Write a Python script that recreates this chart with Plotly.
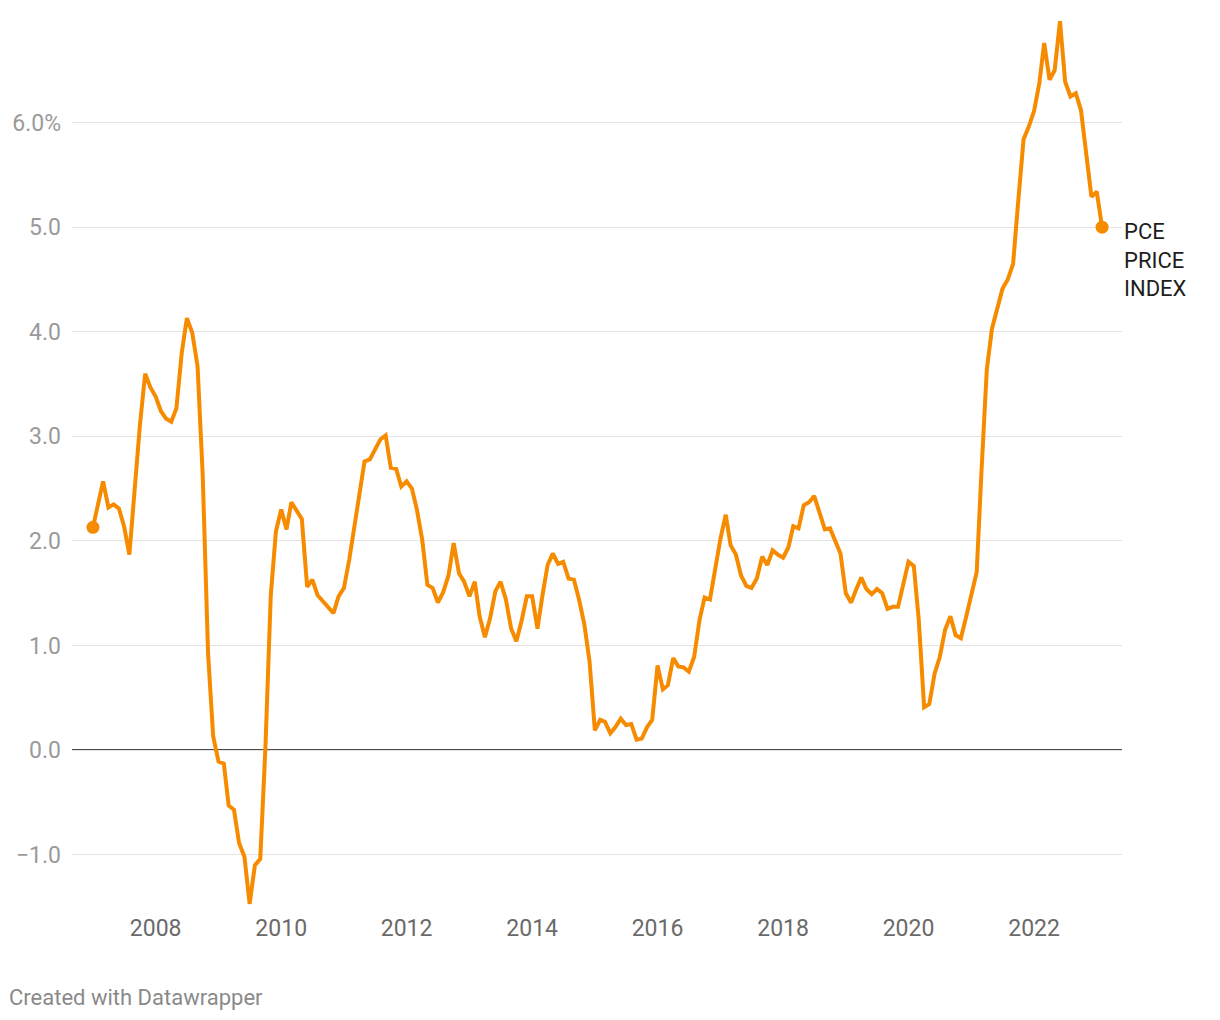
import plotly.graph_objects as go
import pandas as pd

# Monthly PCE price index, year-over-year % change, Jan 2007 - Feb 2023
start_month = "2007-01-01"
pce = [
    # 2007
    2.13, 2.35, 2.57, 2.32, 2.35, 2.31, 2.14, 1.87, 2.55, 3.10, 3.60, 3.47,
    # 2008
    3.38, 3.24, 3.17, 3.14, 3.27, 3.80, 4.13, 3.99, 3.67, 2.63, 0.93, 0.13,
    # 2009
    -0.11, -0.13, -0.53, -0.57, -0.89, -1.02, -1.47, -1.10, -1.04, 0.02, 1.47, 2.09,
    # 2010
    2.30, 2.11, 2.37, 2.29, 2.21, 1.56, 1.63, 1.48, 1.42, 1.36, 1.31, 1.47,
    # 2011
    1.55, 1.82, 2.11, 2.49, 2.76, 2.78, 2.87, 2.97, 3.01, 2.70, 2.69, 2.52,
    # 2012
    2.57, 2.50, 2.30, 2.01, 1.58, 1.55, 1.41, 1.51, 1.67, 1.98, 1.69, 1.61,
    # 2013
    1.47, 1.61, 1.28, 1.08, 1.26, 1.52, 1.61, 1.44, 1.16, 1.04, 1.24, 1.47,
    # 2014
    1.47, 1.16, 1.47, 1.77, 1.88, 1.78, 1.80, 1.64, 1.63, 1.44, 1.20, 0.85,
    # 2015
    0.19, 0.29, 0.27, 0.16, 0.22, 0.30, 0.24, 0.25, 0.10, 0.11, 0.22, 0.29,
    # 2016
    0.81, 0.58, 0.62, 0.88, 0.80, 0.79, 0.75, 0.89, 1.24, 1.46, 1.44, 1.72,
    # 2017
    2.02, 2.25, 1.96, 1.87, 1.67, 1.57, 1.55, 1.64, 1.85, 1.77, 1.91, 1.87,
    # 2018
    1.84, 1.94, 2.14, 2.12, 2.34, 2.37, 2.43, 2.27, 2.11, 2.12, 1.99, 1.88,
    # 2019
    1.50, 1.41, 1.53, 1.65, 1.54, 1.49, 1.54, 1.50, 1.35, 1.37, 1.37, 1.60,
    # 2020
    1.80, 1.76, 1.24, 0.41, 0.44, 0.73, 0.89, 1.15, 1.28, 1.10, 1.07, 1.27,
    # 2021
    1.48, 1.70, 2.67, 3.64, 4.03, 4.23, 4.41, 4.50, 4.65, 5.25, 5.84, 5.96,
    # 2022
    6.11, 6.38, 6.76, 6.41, 6.50, 6.97, 6.39, 6.25, 6.28, 6.12, 5.68, 5.29,
    # 2023
    5.34, 5.00,
]
dates = pd.date_range(start_month, periods=len(pce), freq="MS")

y_tickvals = [-1, 0, 1, 2, 3, 4, 5, 6]
y_ticktext = ["\u22121.0", "0.0", "1.0", "2.0", "3.0", "4.0", "5.0", "6.0%"]
x_tickvals = ["2008-01-01", "2010-01-01", "2012-01-01", "2014-01-01",
              "2016-01-01", "2018-01-01", "2020-01-01", "2022-01-01"]
x_ticktext = ["2008", "2010", "2012", "2014", "2016", "2018", "2020", "2022"]
series_label = "PCE<br>PRICE<br>INDEX"
credit = "Created with Datawrapper"

ORANGE = "#f68b00"

fig = go.Figure()
fig.add_trace(go.Scatter(
    x=dates, y=pce, mode="lines",
    line=dict(color=ORANGE, width=4),
    hoverinfo="skip", showlegend=False,
))
fig.add_trace(go.Scatter(
    x=[dates[0], dates[-1]], y=[pce[0], pce[-1]], mode="markers",
    marker=dict(color=ORANGE, size=13),
    hoverinfo="skip", showlegend=False,
))

fig.add_hline(y=0, line=dict(color="#111111", width=1.6), layer="below")

fig.add_annotation(
    x=1.0, xref="paper", y=pce[-1], yref="y",
    text=series_label, showarrow=False, xanchor="left", yanchor="top",
    yshift=10, align="left",
    font=dict(family="Roboto", size=22, color="#1d1d1d"),
)
fig.add_annotation(
    x=0, xref="paper", y=0, yref="paper",
    xshift=-65, yshift=-90,
    text=credit, showarrow=False,
    xanchor="left", yanchor="middle",
    font=dict(family="Roboto", size=22, color="#8a8a8a"),
)

fig.update_layout(
    width=1212, height=1012,
    margin=dict(l=64, r=98, t=10, b=113, autoexpand=False),
    paper_bgcolor="white", plot_bgcolor="white",
    font=dict(family="Roboto"),
    xaxis=dict(
        type="date", automargin=False,
        range=["2006-09-01", "2023-05-28"],
        tickvals=x_tickvals, ticktext=x_ticktext,
        showgrid=False, zeroline=False, showline=False, ticks="",
        tickfont=dict(family="Roboto", size=23, color="#6a6a6a"),
        ticklabelstandoff=5,
    ),
    yaxis=dict(
        automargin=False,
        range=[-1.5, 7.0],
        tickvals=y_tickvals, ticktext=y_ticktext,
        showgrid=True, gridcolor="#e3e3e3", gridwidth=1.4,
        zeroline=False, showline=False, ticks="",
        tickfont=dict(family="Roboto", size=23, color="#9a9a9a"),
        ticklabelstandoff=10,
    ),
)

fig.write_html("out.html")
